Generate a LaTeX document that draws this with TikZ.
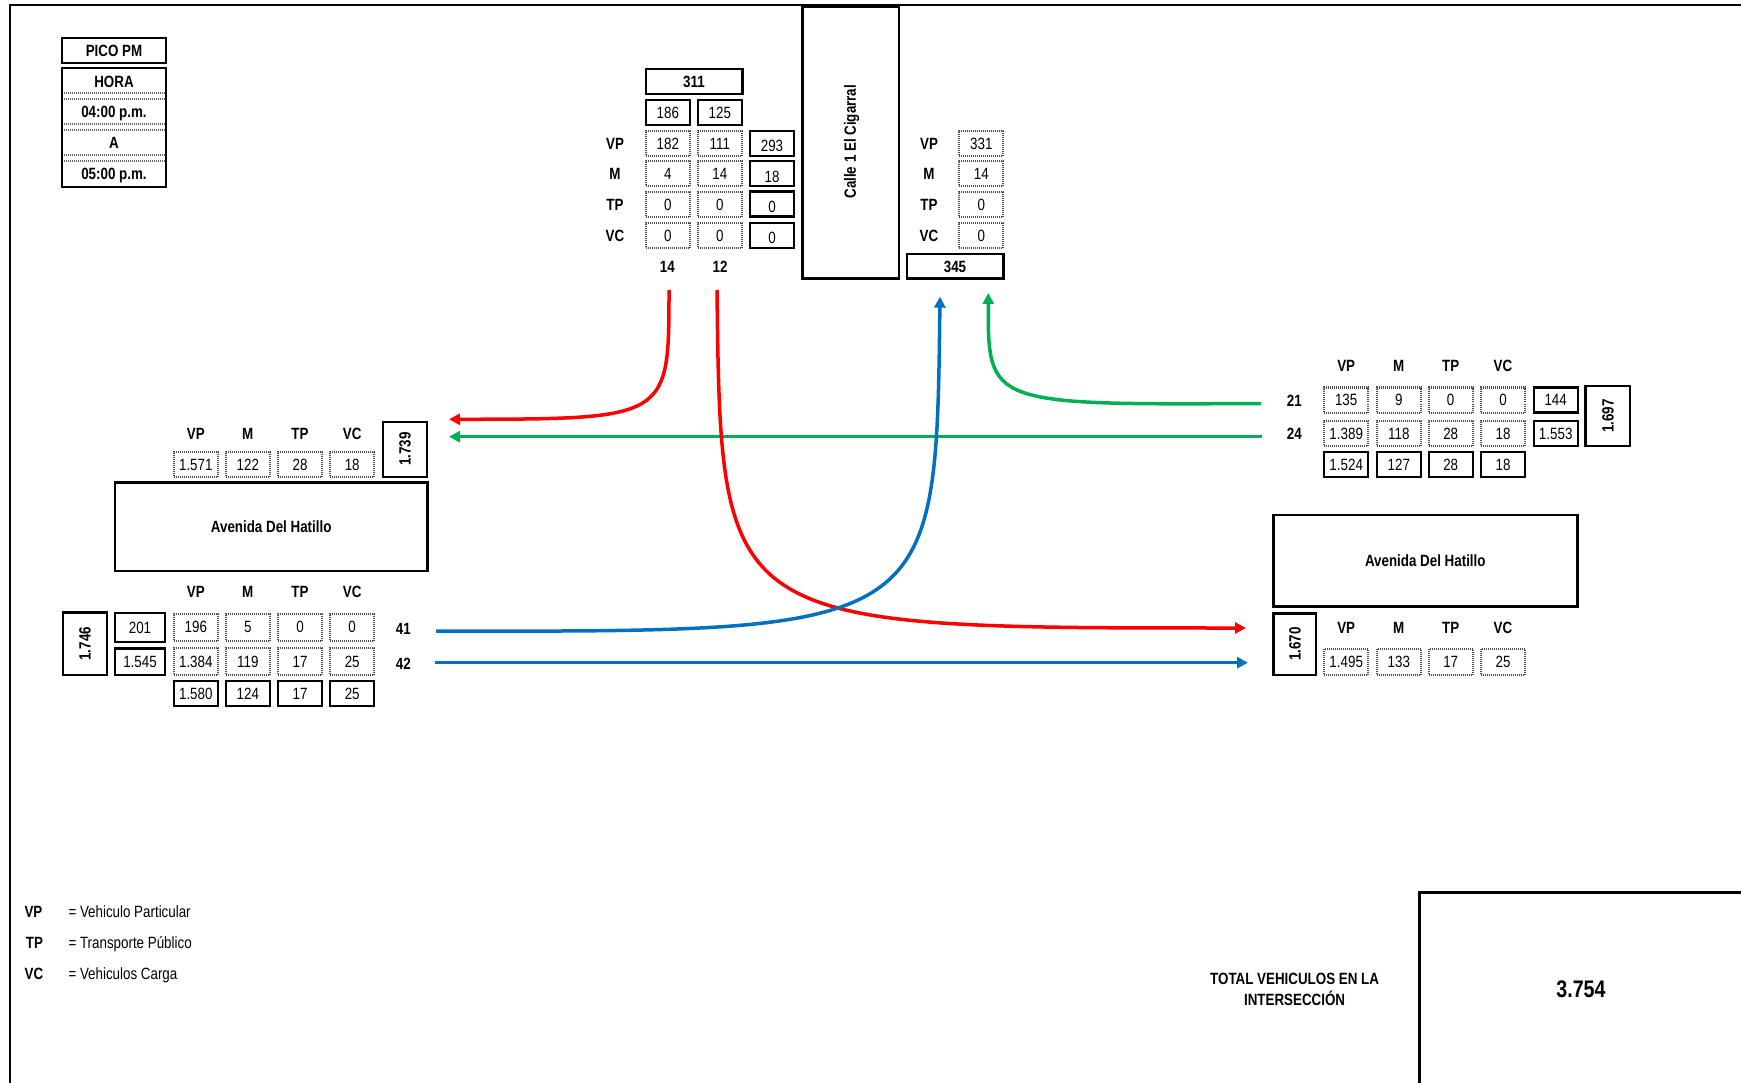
\documentclass[tikz,border=0pt]{standalone}
\usepackage{fontspec}
\setmainfont[FakeStretch=0.82]{Liberation Sans}
\usetikzlibrary{arrows.meta}
\definecolor{cred}{RGB}{255,0,0}
\definecolor{cgreen}{RGB}{0,176,80}
\definecolor{cblue}{RGB}{0,112,192}
\begin{document}
\begin{tikzpicture}[x=1pt,y=-1pt,
  every node/.style={font=\fontsize{16.3}{21}\selectfont, inner sep=0pt},
  ctext/.style={text height=11.7pt, text depth=0pt},
  lbl/.style={ctext, font=\fontsize{16.3}{21}\selectfont\bfseries},
  sbox/.style={ctext, draw, line width=2.4pt, minimum width=44pt, minimum height=25pt},
  dbox/.style={ctext, draw=black!70, line width=2pt, dash pattern=on 1pt off 1pt, minimum width=44pt, minimum height=25pt},
  lowtxt/.style={text height=16.5pt},
  sepline/.style={draw=black!60, line width=1.3pt, dash pattern=on 1pt off 1pt},
  flow/.style={line width=3.5pt, -{Triangle[length=11pt,width=11pt]}},
]
\useasboundingbox (0,0) rectangle (1741,1083);
% frame
\draw[line width=2pt] (10,1095) -- (10,4.7) -- (1750,4.7);

% ---- time block
\node[sbox, lbl, minimum width=104pt, minimum height=25pt] (pico) at (114,50.5) {PICO PM};
\node[sbox, minimum width=104pt, minimum height=119pt] (hora) at (114,127.5) {};
\node[lbl] (horat) at (114,82) {HORA};
\node[lbl] (h1) at (114,112) {04:00 p.m.};
\node[lbl] (ha) at (114,143) {A};
\node[lbl] (h2) at (114,174) {05:00 p.m.};
\foreach \yy in {93,99,124,130,155,161} \draw[sepline] (63.5,\yy) -- (164.5,\yy);

% ---- top approach (Calle 1)
\node[sbox, lbl, minimum width=96.6pt] (t311) at (694,81.5) {311};
\node[sbox] (t186) at (667.8,112.5) {186};
\node[sbox] (t125) at (719.8,112.5) {125};
\foreach \yy/\lab/\va/\vb/\vc in {143.5/VP/182/111/293, 173.8/M/4/14/18, 204.2/TP/0/0/0, 235.5/VC/0/0/0} {
  \node[lbl] (tl-\lab) at (615,\yy) {\lab};
  \node[dbox] (ta-\lab) at (667.8,\yy) {\va};
  \node[dbox] (tb-\lab) at (719.8,\yy) {\vb};
  \node[sbox, lowtxt] (tc-\lab) at (772,\yy) {\vc};
}
\node[lbl] (n14) at (667.3,266.7) {14};
\node[lbl] (n12) at (720,266.7) {12};

\node[sbox, minimum width=96.3pt, minimum height=272pt] (calle) at (850.8,142.7) {};
\node[lbl, rotate=90] (calletxt) at (850,141.7) {Calle 1 El Cigarral};

\foreach \yy/\lab/\va in {143.5/VP/331, 173.8/M/14, 204.2/TP/0, 235.5/VC/0} {
  \node[lbl] (ol-\lab) at (929,\yy) {\lab};
  \node[dbox] (ob-\lab) at (981.3,\yy) {\va};
}
\node[sbox, lbl, minimum width=96.6pt, minimum height=24.7pt] (t345) at (955,266.3) {345};

% ---- east approach (right, upper)
\foreach \xx/\lab in {1346.2/VP,1398.8/M,1450.7/TP,1503/VC}
  \node[lbl] (eh-\lab) at (\xx,366) {\lab};
\foreach \xx/\lab/\va/\vb/\vc in {1346.2/VP/135/1.389/1.524, 1398.8/M/9/118/127, 1450.7/TP/0/28/28, 1503/VC/0/18/18} {
  \node[dbox, minimum height=25pt] (e1-\lab) at (\xx,400) {\va};
  \node[dbox] (e2-\lab) at (\xx,433.5) {\vb};
  \node[sbox] (e3-\lab) at (\xx,464.2) {\vc};
}
\node[sbox, minimum height=25pt] (e144) at (1555.7,400) {144};
\node[sbox] (e1553) at (1555.7,433.5) {1.553};
\node[sbox, lbl, rotate=90, minimum width=60.3pt, minimum height=44.3pt] (e1697) at (1607.8,416) {1.697};
\node[lbl] (n21) at (1294.3,400.5) {21};
\node[lbl] (n24) at (1294.3,434) {24};

% ---- west side (left)
\foreach \xx/\lab in {195.8/VP,247.8/M,300/TP,352.2/VC}
  \node[lbl] (wh-\lab) at (\xx,434) {\lab};
\foreach \xx/\lab/\va in {195.8/VP/1.571,247.8/M/122,300/TP/28,352.2/VC/18}
  \node[dbox] (wo-\lab) at (\xx,464.2) {\va};
\node[sbox, lbl, rotate=90, minimum width=55pt, minimum height=44pt] (w1739) at (404.7,449.2) {1.739};
\node[sbox, lbl, minimum width=312.3pt, minimum height=88.3pt] (aveW) at (271.2,526.8) {Avenida Del Hatillo};

\foreach \xx/\lab in {195.8/VP,247.8/M,300/TP,352.2/VC}
  \node[lbl] (wh2-\lab) at (\xx,591.7) {\lab};
\foreach \xx/\lab/\va/\vb/\vc in {195.8/VP/196/1.384/1.580, 247.8/M/5/119/124, 300/TP/0/17/17, 352.2/VC/0/25/25} {
  \node[dbox, minimum height=27pt] (w1-\lab) at (\xx,627) {\va};
  \node[dbox, minimum height=27pt] (w2-\lab) at (\xx,661.7) {\vb};
  \node[sbox] (w3-\lab) at (\xx,693.2) {\vc};
}
\node[sbox, minimum width=50pt, minimum height=29pt] (w201) at (140,627.5) {201};
\node[sbox, minimum width=50pt, minimum height=26.5pt] (w1545) at (140,661.7) {1.545};
\node[sbox, lbl, rotate=90, minimum width=62.3pt, minimum height=44pt] (w1746) at (84.7,643.8) {1.746};
\node[lbl] (n41) at (403.3,628.3) {41};
\node[lbl] (n42) at (403.3,663.3) {42};

% ---- east side (right, lower)
\node[sbox, lbl, minimum width=304pt, minimum height=91.7pt] (aveE) at (1425.3,560.8) {Avenida Del Hatillo};
\node[sbox, lbl, rotate=90, minimum width=61.7pt, minimum height=42.7pt] (e1670) at (1294.7,644.2) {1.670};
\foreach \xx/\lab/\va in {1346.2/VP/1.495,1398.8/M/133,1450.7/TP/17,1503/VC/25} {
  \node[lbl] (ed-\lab) at (\xx,627.7) {\lab};
  \node[dbox, minimum height=26pt] (eo-\lab) at (\xx,662) {\va};
}

% ---- flows
\coordinate (r1s) at (669,290);   \coordinate (r1e) at (449,419.3);
\coordinate (r2s) at (717,290);   \coordinate (r2e) at (1246,628);
\coordinate (g1s) at (1261,403.5); \coordinate (g1e) at (988.3,293);
\coordinate (g2s) at (1262,436.7); \coordinate (g2e) at (449,436.7);
\coordinate (b1s) at (436,631);   \coordinate (b1e) at (940,296.7);
\coordinate (b2s) at (435,662.7); \coordinate (b2e) at (1248,662.7);

\draw[flow, cgreen] (g2s) -- (g2e);
\draw[flow, cblue] (b2s) -- (b2e);
\draw[flow, cred] (r1s) .. controls (669,419) and (669,419) .. (r1e);
\draw[flow, cred] (r2s) .. controls (721,628) and (721,628) .. (r2e);
\draw[flow, cgreen] (g1s) .. controls (988,405) and (988,405) .. (g1e);
\draw[flow, cblue] (b1s) .. controls (936,632) and (936,632) .. (b1e);

% ---- legend
\node[lbl] (lvp) at (33.5,911.5) {VP};
\node[ctext, anchor=west] (lvpt) at (68.3,911.5) {= Vehiculo Particular};
\node[lbl] (ltp) at (34.5,943) {TP};
\node[ctext, anchor=west] (ltpt) at (68.3,943) {= Transporte Público};
\node[lbl] (lvc) at (34,974) {VC};
\node[ctext, anchor=west] (lvct) at (68.3,974) {= Vehiculos Carga};

% ---- total
\node[font=\fontsize{16.3}{21}\selectfont\bfseries, align=center] (tottxt) at (1294.6,989.5) {TOTAL VEHICULOS EN LA\\INTERSECCIÓN};
\draw[line width=3pt] (1419,1095) -- (1419,892) -- (1750,892);
\node[font=\fontsize{24}{28}\selectfont\bfseries] (totval) at (1581,989) {3.754};
\end{tikzpicture}
\end{document}
